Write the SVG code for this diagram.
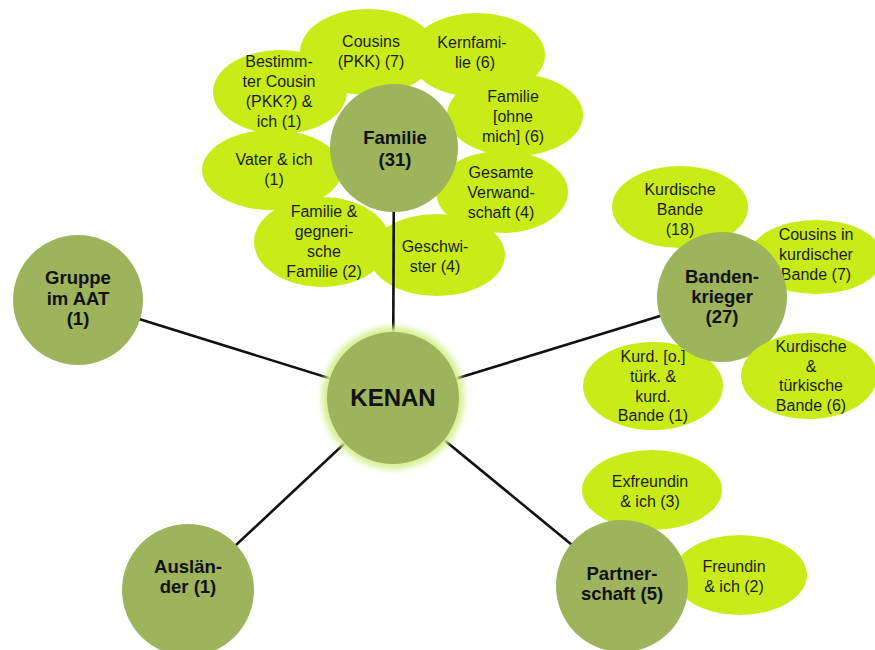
<svg xmlns="http://www.w3.org/2000/svg" width="875" height="650" viewBox="0 0 875 650">
  <defs>
    <style>
      .sat { fill: #c9ec18; }
      .hub { fill: #9db35c; }
      .link { stroke: #111; stroke-width: 2.6; fill: none; }
      .st { font-family: "Liberation Sans", Arial, sans-serif; font-size: 16px; fill: #1c1c1c; text-anchor: middle; }
      .ht { font-family: "Liberation Sans", Arial, sans-serif; font-size: 18.5px; font-weight: bold; fill: #111; text-anchor: middle; }
      .kt { font-family: "Liberation Sans", Arial, sans-serif; font-size: 24px; font-weight: bold; fill: #111; text-anchor: middle; }
    </style>
    <filter id="glow" x="-30%" y="-30%" width="160%" height="160%">
      <feGaussianBlur stdDeviation="3"/>
    </filter>
  </defs>
  <rect width="875" height="650" fill="#ffffff"/>

  <!-- Familie sub-categories -->
  <g id="cousins-pkk"><ellipse class="sat" cx="368" cy="52" rx="68" ry="43"/>
    <text class="st" x="371" y="47">Cousins</text><text class="st" x="371" y="67">(PKK) (7)</text></g>
  <g id="kernfamilie"><ellipse class="sat" cx="477" cy="55" rx="68" ry="42"/>
    <text class="st" x="472" y="48">Kernfami-</text><text class="st" x="475" y="68">lie (6)</text></g>
  <g id="bestimmter-cousin"><ellipse class="sat" cx="280" cy="92" rx="67" ry="42"/>
    <text class="st" x="279" y="67">Bestimm-</text><text class="st" x="279" y="87">ter Cousin</text>
    <text class="st" x="279" y="107">(PKK?) &amp;</text><text class="st" x="279" y="127">ich (1)</text></g>
  <g id="familie-ohne-mich"><ellipse class="sat" cx="515" cy="115" rx="68" ry="41"/>
    <text class="st" x="513" y="102">Familie</text><text class="st" x="513" y="122">[ohne</text>
    <text class="st" x="513" y="142">mich] (6)</text></g>
  <g id="vater"><ellipse class="sat" cx="272" cy="170" rx="70" ry="40"/>
    <text class="st" x="274" y="165">Vater &amp; ich</text><text class="st" x="274" y="185">(1)</text></g>
  <g id="gesamte-verwandschaft"><ellipse class="sat" cx="502" cy="192" rx="66" ry="41"/>
    <text class="st" x="501" y="178">Gesamte</text><text class="st" x="501" y="198">Verwand-</text>
    <text class="st" x="501" y="218">schaft (4)</text></g>
  <g id="familie-gegner"><ellipse class="sat" cx="322" cy="242" rx="68" ry="45"/>
    <text class="st" x="324" y="217">Familie &amp;</text><text class="st" x="324" y="237">gegneri-</text>
    <text class="st" x="324" y="257">sche</text><text class="st" x="324" y="277">Familie (2)</text></g>
  <g id="geschwister"><ellipse class="sat" cx="437" cy="255" rx="68" ry="41"/>
    <text class="st" x="435" y="252">Geschwi-</text><text class="st" x="435" y="272">ster (4)</text></g>

  <!-- Bandenkrieger sub-categories -->
  <g id="kurdische-bande"><ellipse class="sat" cx="680" cy="207" rx="68" ry="41"/>
    <text class="st" x="680" y="195">Kurdische</text><text class="st" x="680" y="215">Bande</text>
    <text class="st" x="680" y="235">(18)</text></g>
  <g id="cousins-kurdisch"><ellipse class="sat" cx="816" cy="257" rx="67" ry="37"/>
    <text class="st" x="816" y="240">Cousins in</text><text class="st" x="816" y="260">kurdischer</text>
    <text class="st" x="816" y="280">Bande (7)</text></g>
  <g id="kurd-o-tuerk"><ellipse class="sat" cx="653" cy="386" rx="70" ry="44"/>
    <text class="st" x="653" y="362">Kurd. [o.]</text><text class="st" x="653" y="382">türk. &amp;</text>
    <text class="st" x="653" y="402">kurd.</text><text class="st" x="653" y="421">Bande (1)</text></g>

  <!-- Partnerschaft sub-categories -->
  <g id="exfreundin"><ellipse class="sat" cx="652" cy="490" rx="70" ry="40"/>
    <text class="st" x="650" y="487">Exfreundin</text><text class="st" x="650" y="507">&amp; ich (3)</text></g>
  <g id="freundin"><ellipse class="sat" cx="740" cy="575" rx="67" ry="40"/>
    <text class="st" x="734" y="572">Freundin</text><text class="st" x="734" y="592">&amp; ich (2)</text></g>

  <!-- connectors from the centre to each category -->
  <g id="connectors">
    <line class="link" x1="393" y1="398" x2="394" y2="148"/>
    <line class="link" x1="393" y1="398" x2="78" y2="300"/>
    <line class="link" x1="393" y1="398" x2="722" y2="297"/>
    <line class="link" x1="393" y1="398" x2="188" y2="590"/>
    <line class="link" x1="393" y1="398" x2="622" y2="586"/>
  </g>

  <!-- main categories -->
  <g id="familie"><circle class="hub" cx="394" cy="148" r="64"/>
    <text class="ht" x="395" y="144">Familie</text><text class="ht" x="395" y="166">(31)</text></g>
  <g id="gruppe-aat"><circle class="hub" cx="78" cy="300" r="65"/>
    <text class="ht" x="78" y="284">Gruppe</text><text class="ht" x="78" y="304.5">im AAT</text>
    <text class="ht" x="78" y="325">(1)</text></g>
  <g id="bandenkrieger"><circle class="hub" cx="722" cy="297" r="65"/>
    <text class="ht" x="722" y="283">Banden-</text><text class="ht" x="722" y="303">krieger</text>
    <text class="ht" x="722" y="323">(27)</text></g>
  <g id="auslaender"><circle class="hub" cx="188" cy="590" r="66"/>
    <text class="ht" x="188" y="573">Auslän-</text><text class="ht" x="188" y="593">der (1)</text></g>
  <g id="partnerschaft"><circle class="hub" cx="622" cy="586" r="66"/>
    <text class="ht" x="622" y="580">Partner-</text><text class="ht" x="622" y="600">schaft (5)</text></g>
  <g id="kenan">
    <circle cx="393" cy="398" r="71" fill="#d4ef8c" filter="url(#glow)"/>
    <circle class="hub" cx="393" cy="398" r="66"/>
    <text class="kt" x="393" y="406">KENAN</text></g>

  <!-- this one overlaps the Bandenkrieger circle -->
  <g id="kurd-tuerk-bande"><ellipse class="sat" cx="809" cy="376" rx="68" ry="43"/>
    <text class="st" x="811" y="352">Kurdische</text><text class="st" x="811" y="371.5">&amp;</text>
    <text class="st" x="811" y="391">türkische</text><text class="st" x="811" y="410.5">Bande (6)</text></g>
</svg>
